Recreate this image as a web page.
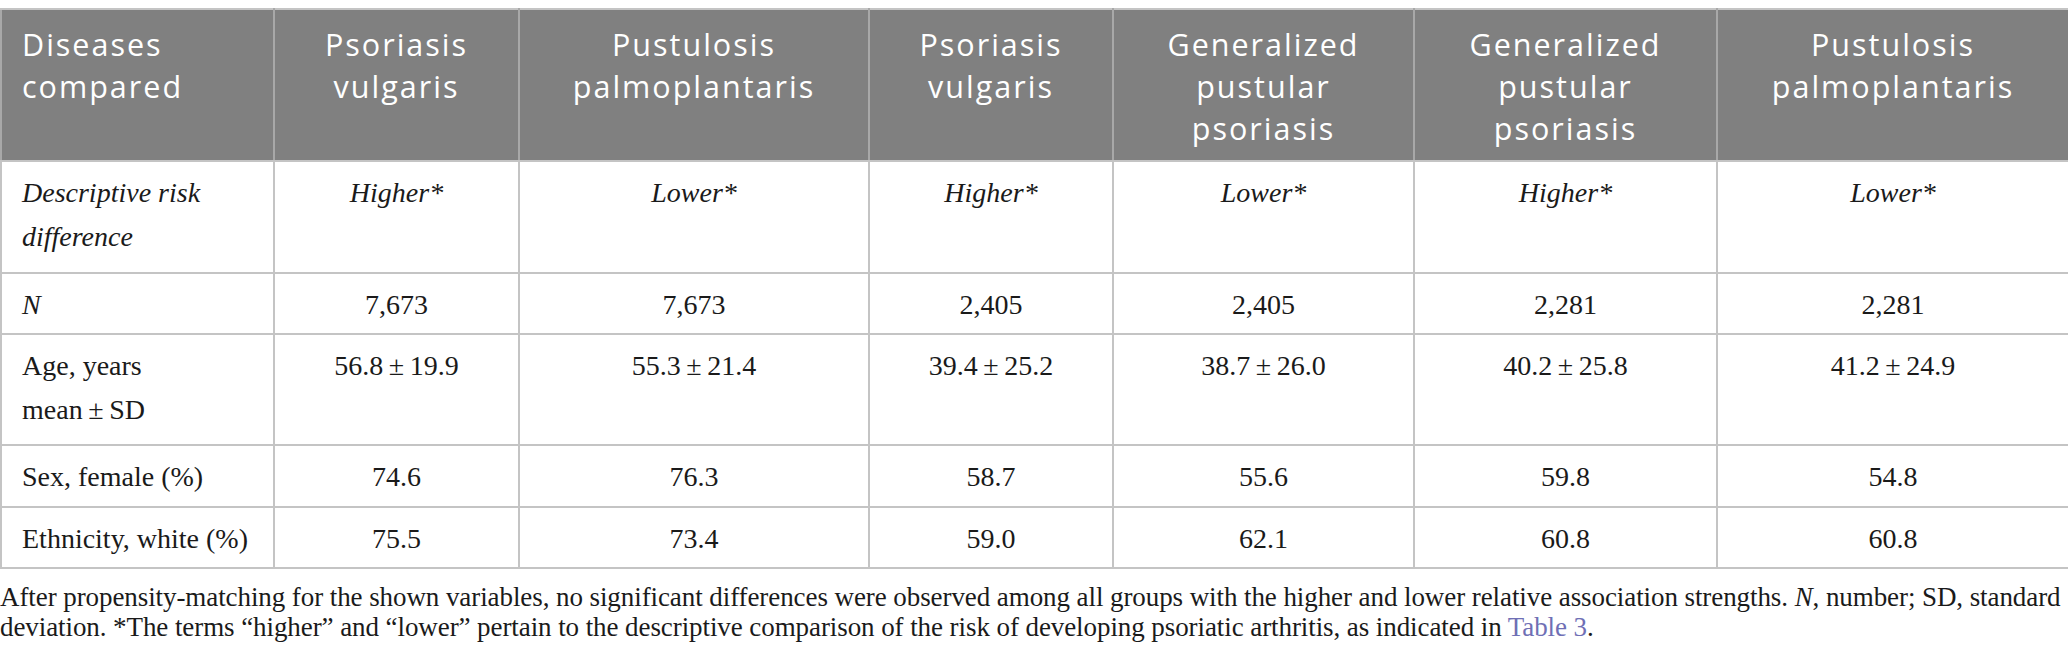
<!DOCTYPE html>
<html>
<head>
<meta charset="utf-8">
<script src="https://cdn.jsdelivr.net/npm/chart.js@4.4.0/dist/chart.umd.min.js"></script>
<style>
  html, body { margin: 0; padding: 0; background: #ffffff; }
  body { width: 2068px; height: 663px; position: relative; overflow: hidden; }
  table {
    position: absolute; left: 0; top: 8px;
    width: 2068px; border-collapse: collapse; table-layout: fixed;
  }
  th, td { border: 2px solid #c4c4c4; box-sizing: border-box; vertical-align: top; }
  th {
    background: #808080; color: #ffffff;
    font-family: "Open Sans", sans-serif; font-weight: 400;
    font-size: 30.5px; line-height: 42px; letter-spacing: 2px;
    padding: 13px 16px 0 16px; text-align: center;
    border-left-color: #a8a8a8; border-right-color: #a8a8a8;
    border-bottom-color: #c4c4c4; height: 152px;
  }
  th:first-child { text-align: left; padding-left: 20px; }
  td {
    font-family: "Liberation Serif", "Times New Roman", serif;
    font-size: 28px; line-height: 44px; color: #1a1a1a;
    padding: 9px 20px 0 20px; text-align: center;
  }
  td:first-child { text-align: left; }
  .it { font-style: italic; }
  #caption {
    position: absolute; left: 0; top: 582px; width: 2068px;
    font-family: "Liberation Serif", "Times New Roman", serif;
    font-size: 27px; line-height: 30px; letter-spacing: -0.08px;
    color: #1a1a1a; white-space: nowrap;
  }
  #caption a { color: #6f6fb5; text-decoration: none; }
</style>
</head>
<body>
<table id="tbl"></table>
<div id="caption">After propensity-matching for the shown variables, no significant differences were observed among all groups with the higher and lower relative association strengths. <i>N</i>, number; SD, standard<br>deviation. *The terms “higher” and “lower” pertain to the descriptive comparison of the risk of developing psoriatic arthritis, as indicated in <a>Table 3</a>.</div>
<script>
// ---- data ----
const headerFirst = ["Diseases", "compared"];
const diseases = [
  ["Psoriasis", "vulgaris"],
  ["Pustulosis", "palmoplantaris"],
  ["Psoriasis", "vulgaris"],
  ["Generalized", "pustular", "psoriasis"],
  ["Generalized", "pustular", "psoriasis"],
  ["Pustulosis", "palmoplantaris"]
];
const riskDifference = ["Higher*", "Lower*", "Higher*", "Lower*", "Higher*", "Lower*"];
const nValues = ["7,673", "7,673", "2,405", "2,405", "2,281", "2,281"];
const ageMean = [56.8, 55.3, 39.4, 38.7, 40.2, 41.2];
const ageSD = [19.9, 21.4, 25.2, 26.0, 25.8, 24.9];
const sexFemale = [74.6, 76.3, 58.7, 55.6, 59.8, 54.8];
const ethnicityWhite = [75.5, 73.4, 59.0, 62.1, 60.8, 60.8];
const colWidths = [273, 245, 350, 244, 301, 303, 352];

// ---- build table ----
const tbl = document.getElementById('tbl');
const cg = document.createElement('colgroup');
colWidths.forEach(w => { const c = document.createElement('col'); c.style.width = w + 'px'; cg.appendChild(c); });
tbl.appendChild(cg);

function row(cells, heightPx, isHeader) {
  const tr = document.createElement('tr');
  cells.forEach(html => {
    const c = document.createElement(isHeader ? 'th' : 'td');
    c.innerHTML = html;
    if (!isHeader) c.style.height = heightPx + 'px';
    tr.appendChild(c);
  });
  tbl.appendChild(tr);
}
row([headerFirst.join('<br>')].concat(diseases.map(d => d.join('<br>'))), 152, true);
row(['<span class="it">Descriptive risk<br>difference</span>'].concat(riskDifference.map(v => '<span class="it">' + v + '</span>')), 112);
row(['<span class="it">N</span>'].concat(nValues), 61);
row(['Age, years<br>mean\u2009±\u2009SD'].concat(ageMean.map((m, i) => m.toFixed(1) + '\u2009±\u2009' + ageSD[i].toFixed(1))), 111);
row(['Sex, female (%)'].concat(sexFemale.map(v => v.toFixed(1))), 62);
row(['Ethnicity, white (%)'].concat(ethnicityWhite.map(v => v.toFixed(1))), 61);
</script>
</body>
</html>
